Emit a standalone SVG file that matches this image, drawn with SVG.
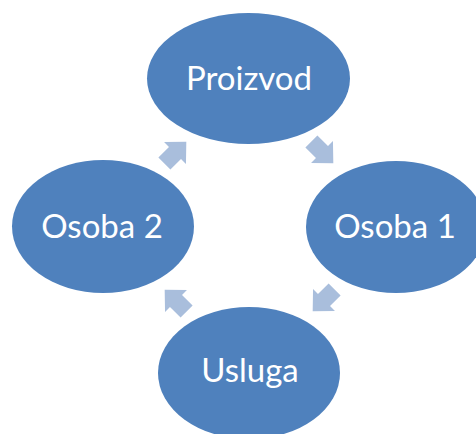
<svg xmlns="http://www.w3.org/2000/svg" width="476" height="434" viewBox="0 0 476 434">
<defs>
<style>
.node ellipse{fill:#4F81BD;}
.node text{fill:#FFFFFF;font-family:Lato,"Open Sans","Liberation Sans",sans-serif;font-size:33px;text-anchor:middle;}
.arrow{fill:#A9BEDC;}
</style>
<polygon id="arr" points="-15,-8.5 0,-8.5 0,-15.5 16,0 0,15.5 0,8.5 -15,8.5"/>
</defs>
<rect width="476" height="434" fill="#FFFFFF"/>
<g id="connectors">
<use href="#arr" class="arrow" transform="translate(322,152) rotate(45)"/>
<use href="#arr" class="arrow" transform="translate(324,300) rotate(135)"/>
<use href="#arr" class="arrow" transform="translate(176,301) rotate(-135)"/>
<use href="#arr" class="arrow" transform="translate(175,153) rotate(-45)"/>
</g>
<g id="node-proizvod" class="node">
<ellipse cx="248.5" cy="78.5" rx="101.5" ry="65.5"/>
<text x="249" y="90">Proizvod</text>
</g>
<g id="node-osoba1" class="node">
<ellipse cx="396" cy="227" rx="90" ry="66"/>
<text x="395" y="238">Osoba 1</text>
</g>
<g id="node-osoba2" class="node">
<ellipse cx="103" cy="226.5" rx="91" ry="66.5"/>
<text x="102" y="238">Osoba 2</text>
</g>
<g id="node-usluga" class="node">
<ellipse cx="249" cy="373" rx="91" ry="66"/>
<text x="250" y="382">Usluga</text>
</g>
</svg>
